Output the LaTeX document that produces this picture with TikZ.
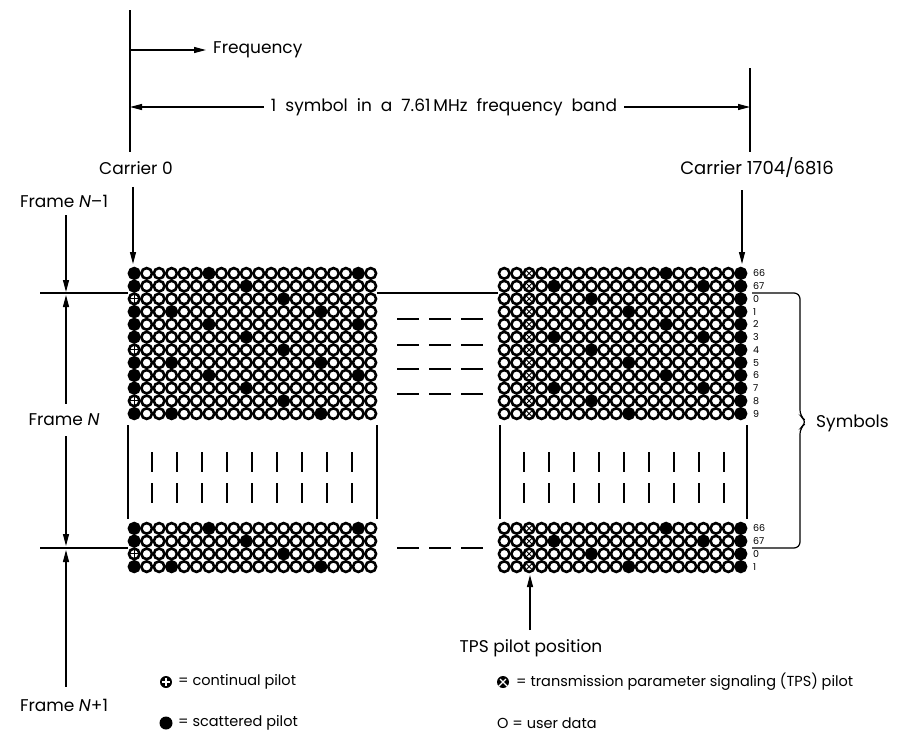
\documentclass[tikz,border=0pt]{standalone}
\usepackage{fontspec}
\setmainfont{Poppins}
\usetikzlibrary{arrows.meta}
\def\cw{12.45}
\def\ch{12.75}
\tikzset{
  ln/.style={line width=1.2pt},
  arr/.style={line width=1.2pt,-{Triangle[length=12pt,width=6pt]}},
  cellline/.style={line width=2.6pt},
  lbl/.style={font=\fontsize{17}{19}\selectfont, inner sep=0pt},
  leg/.style={font=\fontsize{14.5}{16}\selectfont, inner sep=0pt},
  rowlab/.style={font=\fontsize{9.5}{9.5}\selectfont, inner sep=0pt, anchor=west},
  markln/.style={line width=1.2pt},
}
\newcommand\cellO[2]{\draw[cellline] (#1,#2) circle[radius=5.3pt];}
\newcommand\cellF[2]{\filldraw[cellline] (#1,#2) circle[radius=5.3pt];}
\newcommand\cellP[2]{\draw[cellline] (#1,#2) circle[radius=5.3pt];
  \draw[line width=0.8pt] (#1,#2) ++(-4,0) -- ++(8,0) (#1,#2) ++(0,-4) -- ++(0,8);}
\newcommand\cellX[2]{\draw[cellline] (#1,#2) circle[radius=5.3pt];
  \draw[line width=0.8pt] (#1,#2) ++(-3,-3) -- ++(6,6) ++(0,-6) -- ++(-6,6);}
\newcommand\dvbgrid[4]{%
 \foreach \rr in {1,...,#3}{%
  \foreach \cc in {0,...,19}{%
   \pgfmathtruncatemacro\mm{mod(\rr-1,4)}%
   \pgfmathsetmacro\xx{#1+(\cc+0.5)*\cw}%
   \pgfmathsetmacro\yy{#2+(\rr-0.5)*\ch}%
   \ifnum#4=0
     \pgfmathtruncatemacro\kk{mod(\cc+42-3*\mm,12)}%
     \ifnum\cc=0
       \ifnum\mm=2 \def\ty{P}\else\def\ty{F}\fi
     \else
       \ifnum\kk=0 \def\ty{F}\else\def\ty{O}\fi
     \fi
   \else
     \pgfmathtruncatemacro\kk{mod(\cc+35-3*\mm,12)}%
     \ifnum\cc=19 \def\ty{F}\else
       \ifnum\cc=2 \def\ty{X}\else
         \ifnum\cc<2 \def\ty{O}\else
           \ifnum\kk=0 \def\ty{F}\else\def\ty{O}\fi
         \fi
       \fi
     \fi
   \fi
   \csname cell\ty\endcsname{\xx}{\yy}%
  }}}
\begin{document}
\begin{tikzpicture}[x=1pt,y=-1pt]
\useasboundingbox[fill=white] (0,0) rectangle (898,740);

% top reference lines
\coordinate (vlT) at (130,10);
\coordinate (vlB) at (130,152);
\draw[ln] (vlT) -- (vlB);
\coordinate (vrT) at (750,68);
\coordinate (vrB) at (750,152);
\draw[ln] (vrT) -- (vrB);

\coordinate (fq0) at (130,50);
\node[lbl, anchor=west] (freq) at (213,50) {Frequency};
\draw[arr] (fq0) -- ([xshift=-7pt]freq.west);

\node[lbl] (band) at (444,107) {\spaceskip=9pt plus 1pt 1 symbol in a 7.61\,MHz frequency band};
\coordinate (bandL) at (130,107);
\coordinate (bandR) at (750,107);
\draw[arr] ([xshift=-7pt]band.west) -- (bandL);
\draw[arr] ([xshift=7pt]band.east) -- (bandR);

% carriers
\node[lbl] (c0) at (136,168) {Carrier 0};
\node[lbl, font=\fontsize{18}{20}\selectfont] (c1) at (757,168) {Carrier 1704/6816};
\coordinate (c0t) at (133,264);
\coordinate (c1t) at (742,264);
\draw[arr] ([yshift=-12pt]c0.south -| c0t) -- (c0t);
\draw[arr] ([yshift=-12pt]c1.south -| c1t) -- (c1t);

% grids
\dvbgrid{128}{267}{12}{0}
\dvbgrid{498}{267}{12}{1}
\dvbgrid{128}{522}{4}{0}
\dvbgrid{498}{522}{4}{1}

% row labels
\foreach \lab [count=\i] in {66,67,0,1,2,3,4,5,6,7,8,9}{
  \node[rowlab] (rl\i) at (753,{267+(\i-0.5)*\ch}) {\lab};
}
\foreach \lab [count=\i] in {66,67,0,1}{
  \node[rowlab] (rb\i) at (753,{522+(\i-0.5)*\ch}) {\lab};
}

% connecting lines between grids
\coordinate (gLr) at (377,293);
\coordinate (gRl) at (498,293);
\draw[ln] (gLr) -- (gRl);
\foreach \yy in {319,345,369,394,548}{
  \draw[ln] (397,\yy) -- (419,\yy);
  \draw[ln] (429,\yy) -- (451,\yy);
  \draw[ln] (461,\yy) -- (483,\yy);
}

% middle boxes
\foreach \xx in {128,377,500,747}{
  \draw[ln] (\xx,425) -- (\xx,519);
}
\foreach \k in {0,...,8}{
  \draw[markln] ({152+25*\k},452) -- ({152+25*\k},472);
  \draw[markln] ({152+25*\k},483) -- ({152+25*\k},503);
  \draw[markln] ({524+25*\k},452) -- ({524+25*\k},472);
  \draw[markln] ({524+25*\k},483) -- ({524+25*\k},503);
}

% brace
\coordinate (b1) at (752,293);
\coordinate (b2) at (752,548);
\draw[ln, rounded corners=6pt] (b1) -- (800,293) -- (800,416) -- (807,422) -- (800,428) -- (800,548) -- (b2);
\node[lbl, anchor=west] (sym) at (816,423) {Symbols};

% frame labels (left)
\coordinate (h1L) at (40,293);
\coordinate (h1R) at (128,293);
\coordinate (h2L) at (40,548);
\coordinate (h2R) at (128,548);
\draw[ln] (h1L) -- (h1R);
\draw[ln] (h2L) -- (h2R);
\node[lbl] (fnm1) at (64,201) {Frame \textit{N}–1};
\node[lbl] (fn) at (64,420) {Frame \textit{N}};
\node[lbl] (fnp1) at (64,705) {Frame \textit{N}+1};
\coordinate (a1) at (66,292);
\coordinate (a2) at (66,295);
\coordinate (a3) at (66,546);
\coordinate (a4) at (66,550);
\draw[arr] ([yshift=-8pt]fnm1.south -| a1) -- (a1);
\draw[arr] ([yshift=10pt]fn.north -| a2) -- (a2);
\draw[arr] ([yshift=-10pt]fn.south -| a3) -- (a3);
\draw[arr] ([yshift=12pt]fnp1.north -| a4) -- (a4);

% TPS
\node[lbl] (tps) at (531,648) {TPS pilot position};
\coordinate (tpsT) at (530,575);
\draw[arr] ([yshift=9pt]tps.north -| tpsT) -- (tpsT);

% legend
\node[circle, fill=black, minimum size=12pt, inner sep=0pt] (lp) at (166,682) {};
\draw[white, line width=1.2pt] (lp.west) ++(2,0) -- ++(8,0) (lp.north) ++(0,2) -- ++(0,8);
\node[leg, anchor=west] (lpt) at (178,682) {= continual pilot};
\node[circle, fill=black, minimum size=12pt, inner sep=0pt] (lx) at (503,682) {};
\draw[white, line width=1.2pt] (lx.north west) ++(1.5,1.5) -- (lx.south east) ++(-1.5,-1.5);
\draw[white, line width=1.2pt] (lx.north east) ++(-1.5,1.5) -- (lx.south west) ++(1.5,-1.5);
\node[leg, anchor=west] (lxt) at (516,682) {= transmission parameter signaling (TPS) pilot};
\node[circle, fill=black, minimum size=13pt, inner sep=0pt] (ls) at (166,723) {};
\node[leg, anchor=west] (lst) at (178,723) {= scattered pilot};
\node[leg, anchor=west] (lu) at (497,723) {O = user data};
\end{tikzpicture}
\end{document}
